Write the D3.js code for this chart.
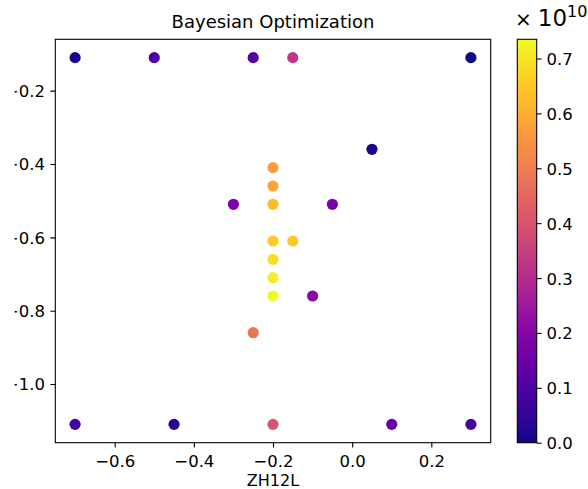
<!DOCTYPE html>
<html>
<head>
<meta charset="utf-8">
<script src="https://cdn.jsdelivr.net/npm/d3@7"></script>
<style>
  html, body { margin: 0; padding: 0; background: #fff; }
  svg { display: block; font-family: "DejaVu Sans", sans-serif; }
</style>
</head>
<body>
<svg id="chart" width="588" height="489"></svg>
<script>
// Sampled parameter points (ZH12L on x) and their objective values (×1e10)
const xVals = [-0.7, -0.5, -0.25, -0.15, 0.3, 0.05, -0.2, -0.2, -0.2, -0.3, -0.05, -0.2,
               -0.15, -0.2, -0.2, -0.2, -0.1, -0.25, -0.7, -0.45, -0.2, 0.1, 0.3];
const yVals = [-0.11, -0.11, -0.11, -0.11, -0.11, -0.36, -0.41, -0.46, -0.51, -0.51, -0.51, -0.61,
               -0.61, -0.66, -0.71, -0.76, -0.76, -0.86, -1.11, -1.11, -1.11, -1.11, -1.11];
const scores = [0.01, 0.09, 0.11, 0.33, 0.0, 0.02, 0.573, 0.58, 0.625, 0.18, 0.18, 0.655,
                0.65, 0.69, 0.715, 0.735, 0.2, 0.485, 0.08, 0.035, 0.40, 0.14, 0.08];

const xTicks = [-0.6, -0.4, -0.2, 0.0, 0.2];
const yTicks = [-0.2, -0.4, -0.6, -0.8, -1.0];
const cbTicks = [0.0, 0.1, 0.2, 0.3, 0.4, 0.5, 0.6, 0.7];

const titleText = "Bayesian Optimization";
const xLabelText = "ZH12L";

const svg = d3.select("#chart");
const defs = svg.append("defs");
const plot = { left: 55.3, right: 490.7, top: 39.3, bottom: 442.7 };
const cbar = { left: 517.3, right: 536.7, top: 39.3, bottom: 442.7 };

// axis ranges padded 5% around the data, as matplotlib does
const xr = d3.extent(xVals), yr = d3.extent(yVals);
const xPad = (xr[1] - xr[0]) * 0.05, yPad = (yr[1] - yr[0]) * 0.05;
const x = d3.scaleLinear().domain([xr[0] - xPad, xr[1] + xPad]).range([plot.left, plot.right]);
const y = d3.scaleLinear().domain([yr[0] - yPad, yr[1] + yPad]).range([plot.bottom, plot.top]);

const cDomain = d3.extent(scores);
const color = d3.scaleSequential(d3.interpolatePlasma).domain(cDomain);
const cy = d3.scaleLinear().domain(cDomain).range([cbar.bottom, cbar.top]);

const fmt = d => (d < 0 ? "\u2212" : "") + Math.abs(d).toFixed(1);
const tickFont = "16.5px";

// points
svg.append("g").selectAll("circle")
  .data(scores.map((s, i) => ({ x: xVals[i], y: yVals[i], s })))
  .join("circle")
  .attr("cx", d => x(d.x))
  .attr("cy", d => y(d.y))
  .attr("r", 5.6)
  .attr("fill", d => color(d.s));

// x axis
const xAxis = d3.axisBottom(x).tickValues(xTicks).tickSize(4.9).tickPadding(4.9).tickFormat(fmt);
const gx = svg.append("g").attr("transform", `translate(0,${plot.bottom})`).call(xAxis);
gx.select(".domain").remove();
gx.selectAll("line").attr("stroke", "#000").attr("stroke-width", 1.1);
gx.selectAll("text").attr("font-size", tickFont).attr("fill", "#000")
  .attr("font-family", "DejaVu Sans").attr("dy", "0.86em");

// y axis; the labels run past the figure's left edge and are cut there
defs.append("clipPath").attr("id", "ylabclip")
  .append("rect").attr("x", 14.6).attr("y", 0).attr("width", 100).attr("height", 489);
const yAxis = d3.axisLeft(y).tickValues(yTicks).tickSize(4.9).tickPadding(5.5).tickFormat(fmt);
const yHolder = svg.append("g").attr("clip-path", "url(#ylabclip)");
const gy = yHolder.append("g").attr("transform", `translate(${plot.left},0)`).call(yAxis);
gy.select(".domain").remove();
gy.selectAll("line").attr("stroke", "#000").attr("stroke-width", 1.1);
gy.selectAll("text").attr("font-size", tickFont).attr("fill", "#000")
  .attr("font-family", "DejaVu Sans").attr("dy", "0.36em");

// frame
svg.append("rect")
  .attr("x", plot.left).attr("y", plot.top)
  .attr("width", plot.right - plot.left).attr("height", plot.bottom - plot.top)
  .attr("fill", "none").attr("stroke", "#000").attr("stroke-width", 1.1);

// title and axis label
svg.append("text").attr("x", (plot.left + plot.right) / 2).attr("y", 28)
  .attr("text-anchor", "middle").attr("font-size", "18px").attr("fill", "#000")
  .text(titleText);
svg.append("text").attr("x", (plot.left + plot.right) / 2).attr("y", 485.5)
  .attr("text-anchor", "middle").attr("font-size", "16px").attr("fill", "#000")
  .text(xLabelText);

// colorbar
const grad = defs.append("linearGradient")
  .attr("id", "plasmaGrad").attr("x1", 0).attr("y1", 1).attr("x2", 0).attr("y2", 0);
d3.range(0, 1.0001, 0.02).forEach(t => {
  grad.append("stop").attr("offset", t).attr("stop-color", d3.interpolatePlasma(t));
});
svg.append("rect")
  .attr("x", cbar.left).attr("y", cbar.top)
  .attr("width", cbar.right - cbar.left).attr("height", cbar.bottom - cbar.top)
  .attr("fill", "url(#plasmaGrad)").attr("stroke", "#000").attr("stroke-width", 1.1);

const cAxis = d3.axisRight(cy).tickValues(cbTicks).tickSize(4.9).tickPadding(4.9).tickFormat(d => d.toFixed(1));
const gc = svg.append("g").attr("transform", `translate(${cbar.right},0)`).call(cAxis);
gc.select(".domain").remove();
gc.selectAll("line").attr("stroke", "#000").attr("stroke-width", 1.1);
gc.selectAll("text").attr("font-size", tickFont).attr("fill", "#000")
  .attr("font-family", "DejaVu Sans").attr("dy", "0.36em");

// colorbar scale factor
const off = svg.append("text").attr("x", 515).attr("y", 26).attr("fill", "#000");
off.append("tspan").attr("font-size", "20px").text("\u00d7");
off.append("tspan").attr("font-size", "23px").attr("dx", 6).text("10");
off.append("tspan").attr("font-size", "16px").attr("dy", -9).text("10");
</script>
</body>
</html>
